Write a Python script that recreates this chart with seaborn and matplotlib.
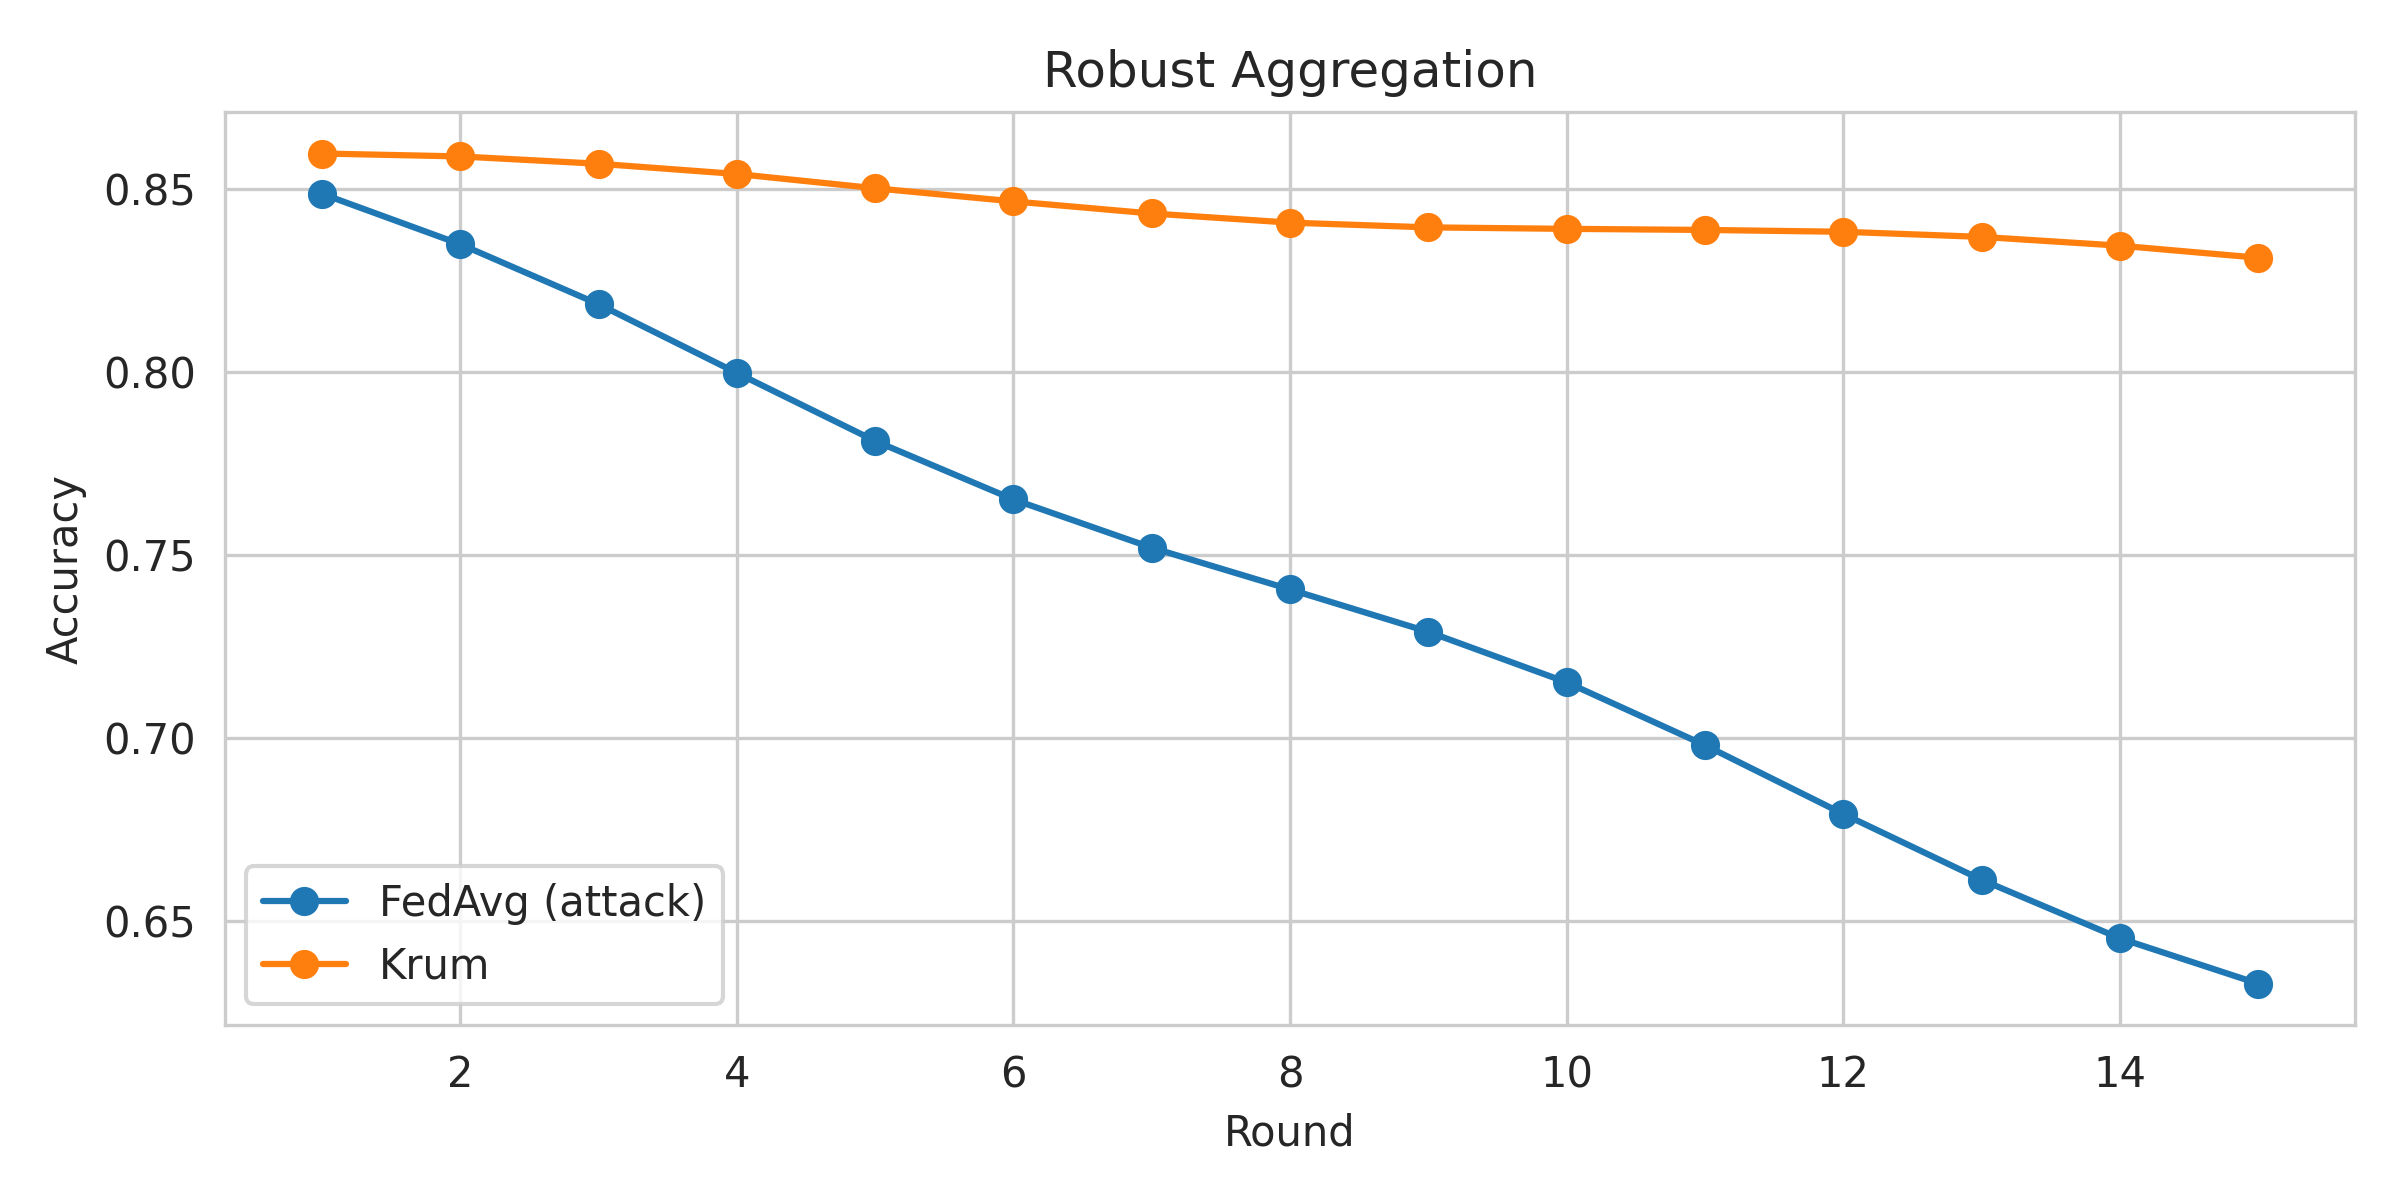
import numpy as np
import pandas as pd
import matplotlib
matplotlib.use("Agg")
import matplotlib.pyplot as plt
import seaborn as sns

sns.set_style("whitegrid")

# Data
rounds = list(range(1, 16))
fedavg_acc = [0.8488, 0.8350, 0.8186, 0.7998, 0.7812, 0.7652, 0.7520, 0.7406,
              0.7290, 0.7152, 0.6980, 0.6792, 0.6612, 0.6452, 0.6328]
krum_acc = [0.8598, 0.8590, 0.8570, 0.8542, 0.8503, 0.8467, 0.8434, 0.8409,
            0.8396, 0.8392, 0.8389, 0.8384, 0.8370, 0.8346, 0.8313]

df = pd.DataFrame({
    "Round": rounds * 2,
    "Accuracy": fedavg_acc + krum_acc,
    "Method": ["FedAvg (attack)"] * len(rounds) + ["Krum"] * len(rounds),
})

fig, ax = plt.subplots(figsize=(8, 4))
palette = {"FedAvg (attack)": "#1f77b4", "Krum": "#ff7f0e"}
for name, grp in df.groupby("Method", sort=False):
    ax.plot(grp["Round"], grp["Accuracy"], marker="o", color=palette[name], label=name)

ax.set_title("Robust Aggregation")
ax.set_xlabel("Round")
ax.set_ylabel("Accuracy")
ax.legend(loc="lower left")
plt.tight_layout()
plt.savefig("out.png", dpi=300)
